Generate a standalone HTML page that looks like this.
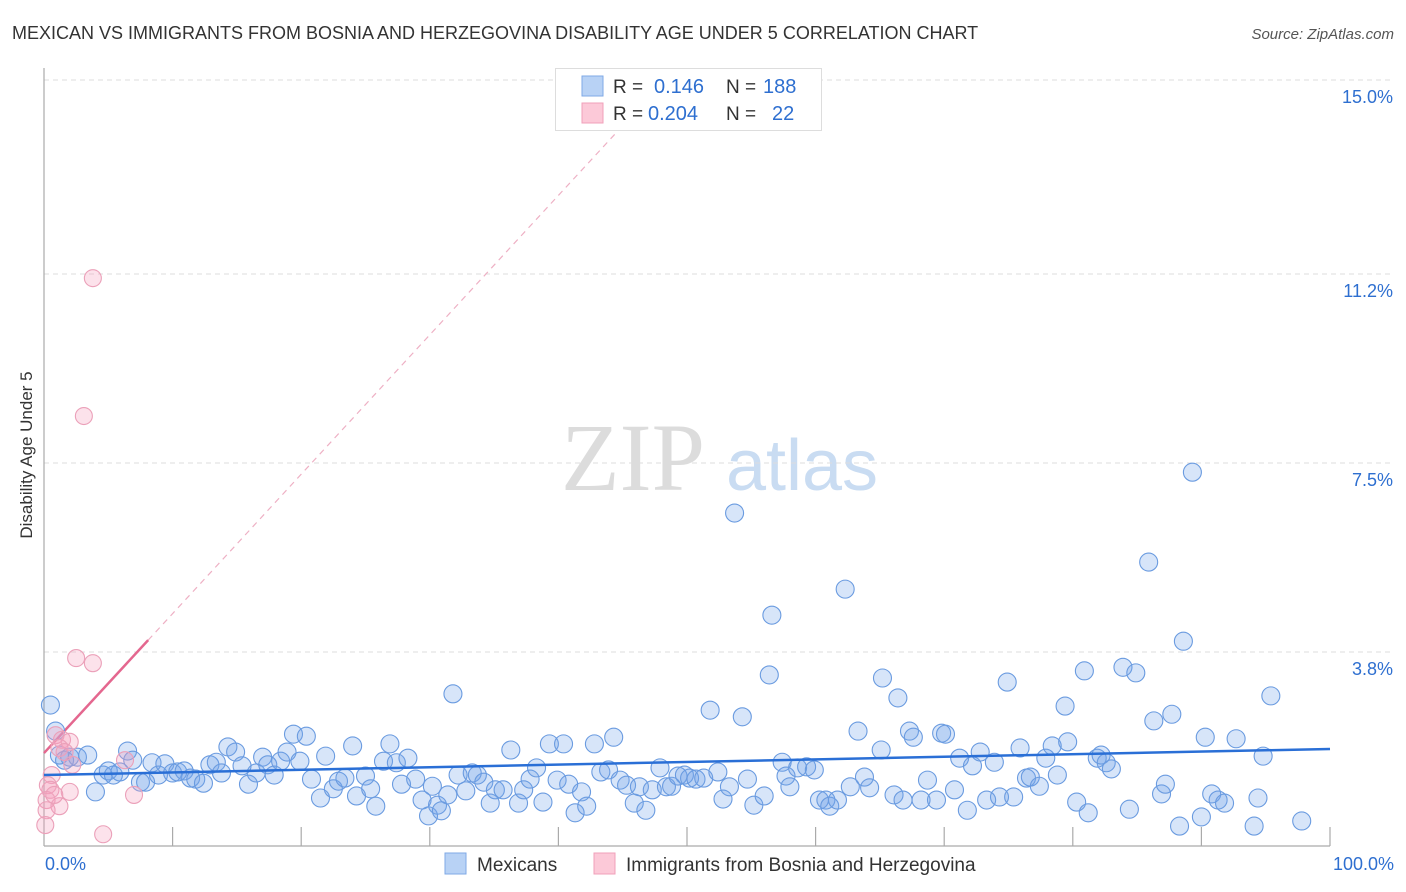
<!DOCTYPE html>
<html><head><meta charset="utf-8"><style>
body{margin:0;background:#fff;font-family:"Liberation Sans",sans-serif;}
svg{display:block}
</style></head><body>
<svg id="chart" width="1406" height="892" viewBox="0 0 1406 892">
<text x="12" y="39" font-size="18" fill="#333">MEXICAN VS IMMIGRANTS FROM BOSNIA AND HERZEGOVINA DISABILITY AGE UNDER 5 CORRELATION CHART</text>
<text x="1394" y="39" font-size="15" fill="#555" font-style="italic" text-anchor="end">Source: ZipAtlas.com</text>
<g>
<text x="633" y="490" font-size="96" font-family="Liberation Serif, serif" fill="#dcdcdc" text-anchor="middle">ZIP</text>
<text x="802" y="490" font-size="72" fill="#c9dcf2" text-anchor="middle">atlas</text>
</g>
<g id="grid"></g>
<g id="axes"></g>
<g id="pinkLines"></g>
<g id="blueDots"></g>
<g id="pinkDots"></g>
<g id="blueLine"></g>
<text x="32" y="455" font-size="17" fill="#333" text-anchor="middle" transform="rotate(-90 32 455)">Disability Age Under 5</text>
<g>
<rect x="555.5" y="68.5" width="266" height="62" fill="#fff" stroke="#ddd"/>
<rect x="582" y="76" width="21" height="20" fill="#b8d2f5" stroke="#7fa9e6"/>
<rect x="582" y="103" width="21" height="20" fill="#fcc9d8" stroke="#f0a0ba"/>
<text x="613" y="93" font-size="19" fill="#333">R = </text><text x="654" y="93" font-size="20" fill="#2e6fd0">0.146</text>
<text x="726" y="93" font-size="19" fill="#333">N = </text><text x="763" y="93" font-size="20" fill="#2e6fd0">188</text>
<text x="613" y="120" font-size="19" fill="#333">R = </text><text x="648" y="120" font-size="20" fill="#2e6fd0">0.204</text>
<text x="726" y="120" font-size="19" fill="#333">N = </text><text x="772" y="120" font-size="20" fill="#2e6fd0">22</text>
</g>
<g>
<rect x="445" y="853" width="21" height="21" fill="#b8d2f5" stroke="#7fa9e6"/>
<text x="477" y="871" font-size="19" fill="#333">Mexicans</text>
<rect x="594" y="853" width="21" height="21" fill="#fcc9d8" stroke="#f0a0ba"/>
<text x="626" y="871" font-size="19" fill="#333">Immigrants from Bosnia and Herzegovina</text>
</g>
</svg>
<script>
const yTicks=[3.8,7.5,11.2,15.0];
const yTickLabels=["3.8%","7.5%","11.2%","15.0%"];
const xTickLabels=["0.0%","100.0%"];
const blueX=[0.5,0.9,1.2,1.6,2.0,2.6,3.4,4.0,4.6,5.0,5.4,5.9,6.5,6.9,7.5,7.9,8.4,8.9,9.4,10.0,10.4,10.9,11.4,11.8,12.4,12.9,13.4,13.8,14.3,14.9,15.4,15.9,16.5,17.0,17.4,17.9,18.4,18.9,19.4,19.9,20.4,20.8,21.5,21.9,22.5,22.9,23.4,24.0,24.3,25.0,25.4,25.8,26.4,26.9,27.4,27.8,28.3,28.9,29.4,29.9,30.2,30.6,30.9,31.4,31.8,32.2,32.8,33.3,33.7,34.2,34.7,35.1,35.7,36.3,36.9,37.3,37.8,38.3,38.8,39.3,39.9,40.4,40.8,41.3,41.8,42.2,42.8,43.3,43.9,44.3,44.8,45.3,45.9,46.3,46.8,47.3,47.9,48.4,48.8,49.3,49.8,50.2,50.7,51.3,51.8,52.4,52.8,53.3,53.7,54.3,54.7,55.2,56.0,56.4,56.6,57.4,57.7,58.0,58.6,59.3,59.9,60.3,60.8,61.1,61.7,62.3,62.7,63.3,63.8,64.2,65.1,65.2,66.1,66.4,66.8,67.3,67.6,68.2,68.7,69.4,69.8,70.1,70.8,71.2,71.8,72.2,72.8,73.3,73.9,74.3,74.9,75.4,75.9,76.4,76.7,77.4,77.9,78.4,78.8,79.4,79.6,80.3,80.9,81.2,81.9,82.2,82.6,83.0,83.9,84.4,84.9,85.9,86.3,86.9,87.2,87.7,88.3,88.6,89.3,90.0,90.3,90.8,91.3,91.8,92.7,94.1,94.4,94.8,95.4,97.8];
const blueY=[2.76,2.25,1.78,1.68,1.74,1.74,1.78,1.06,1.39,1.47,1.39,1.45,1.86,1.68,1.25,1.25,1.63,1.39,1.61,1.43,1.45,1.47,1.33,1.31,1.23,1.59,1.64,1.43,1.94,1.84,1.57,1.21,1.43,1.74,1.59,1.39,1.66,1.84,2.19,1.66,2.15,1.31,0.94,1.76,1.12,1.27,1.33,1.96,0.98,1.37,1.12,0.78,1.66,2.00,1.63,1.21,1.72,1.31,0.90,0.59,1.17,0.80,0.69,1.00,2.98,1.39,1.08,1.43,1.39,1.25,0.84,1.10,1.10,1.88,0.84,1.10,1.31,1.53,0.86,2.00,1.29,2.00,1.21,0.65,1.06,0.78,2.00,1.45,1.49,2.13,1.29,1.19,0.84,1.16,0.70,1.10,1.53,1.16,1.17,1.37,1.39,1.33,1.31,1.33,2.66,1.45,0.92,1.16,6.52,2.53,1.31,0.80,0.98,3.35,4.52,1.64,1.37,1.16,1.53,1.55,1.49,0.90,0.90,0.78,0.90,5.03,1.16,2.25,1.35,1.14,1.88,3.29,1.00,2.90,0.90,2.25,2.13,0.90,1.29,0.90,2.21,2.19,1.10,1.72,0.70,1.57,1.84,0.90,1.64,0.96,3.21,0.96,1.92,1.33,1.35,1.17,1.72,1.96,1.39,2.74,2.04,0.86,3.43,0.65,1.72,1.78,1.63,1.51,3.50,0.72,3.39,5.56,2.45,1.02,1.21,2.58,0.39,4.01,7.32,0.57,2.13,1.02,0.90,0.84,2.10,0.39,0.94,1.76,2.94,0.49];
const pinkX=[3.8,3.1,2.5,3.8,0.9,1.4,2.0,1.2,1.6,2.2,6.3,0.6,0.3,0.5,0.2,2.0,1.2,7.0,4.6,0.2,0.1,0.8];
const pinkY=[11.12,8.42,3.68,3.58,2.17,2.08,2.04,1.92,1.84,1.59,1.68,1.39,1.19,1.10,0.90,1.06,0.78,1.00,0.23,0.70,0.41,1.00];
const blueTrend=[1.39,0.0051];
const pinkTrend=[1.82,0.273];
const pinkSolidEnd=8.1;

const NS="http://www.w3.org/2000/svg";
const X0=44,X1=1330,Y0=846,YTOP=80,YMAX=15;
const xs=v=>X0+(X1-X0)*v/100;
const ys=v=>Y0-(Y0-YTOP)*v/YMAX;
function mk(tag,attrs,parent){const e=document.createElementNS(NS,tag);for(const k in attrs)e.setAttribute(k,attrs[k]);document.getElementById(parent).appendChild(e);return e;}

yTicks.forEach((t,i)=>{
  const l=mk('line',{x1:X0,x2:1394,y1:ys(t),y2:ys(t),stroke:'#ddd','stroke-dasharray':'5,4'},'grid');
  
  
  const tx=mk('text',{x:1393,y:ys(t)+23,'font-size':18,fill:'#2e6fd0','text-anchor':'end'},'grid');
  tx.textContent=yTickLabels[i];
  
  
});
let ax=mk('line',{x1:X0,x2:X0,y1:68,y2:Y0,stroke:'#aaa','stroke-width':1.2},'axes');


ax=mk('line',{x1:X0,x2:X1,y1:Y0,y2:Y0,stroke:'#aaa','stroke-width':1.2},'axes');


for(let i=1;i<=10;i++){
  const t=mk('line',{x1:xs(i*10),x2:xs(i*10),y1:Y0-19,y2:Y0,stroke:'#aaa','stroke-width':1.2},'axes');
  
  
}
let xl=mk('text',{x:45,y:870,'font-size':18,fill:'#2e6fd0'},'axes');
xl.textContent=xTickLabels[0];


xl=mk('text',{x:1394,y:870,'font-size':18,fill:'#2e6fd0','text-anchor':'end'},'axes');
xl.textContent=xTickLabels[1];



// pink trend
const pEndTop=(YMAX-pinkTrend[0])/pinkTrend[1];
let pl=mk('line',{x1:xs(pinkSolidEnd),y1:ys(pinkTrend[0]+pinkTrend[1]*pinkSolidEnd),x2:xs(pEndTop),y2:ys(YMAX),stroke:'#eeb0c4','stroke-width':1.2,'stroke-dasharray':'6,5'},'pinkLines');


pl=mk('line',{x1:xs(0),y1:ys(pinkTrend[0]),x2:xs(pinkSolidEnd),y2:ys(pinkTrend[0]+pinkTrend[1]*pinkSolidEnd),stroke:'#e4678f','stroke-width':2.5},'pinkLines');



blueX.forEach((x,i)=>{
  const c=mk('circle',{cx:xs(x),cy:ys(blueY[i]),r:9,fill:'rgba(110,160,235,0.28)',stroke:'#6a9be0','stroke-width':1.1},'blueDots');
  
  
});
pinkX.forEach((x,i)=>{
  const c=mk('circle',{cx:xs(x),cy:ys(pinkY[i]),r:8.5,fill:'rgba(245,160,190,0.3)',stroke:'#eba0b9','stroke-width':1.1},'pinkDots');
  
  
});
const bl=mk('line',{x1:xs(0),y1:ys(blueTrend[0]),x2:xs(100),y2:ys(blueTrend[0]+blueTrend[1]*100),stroke:'#2a6fd6','stroke-width':2.5},'blueLine');


</script>
</body></html>
